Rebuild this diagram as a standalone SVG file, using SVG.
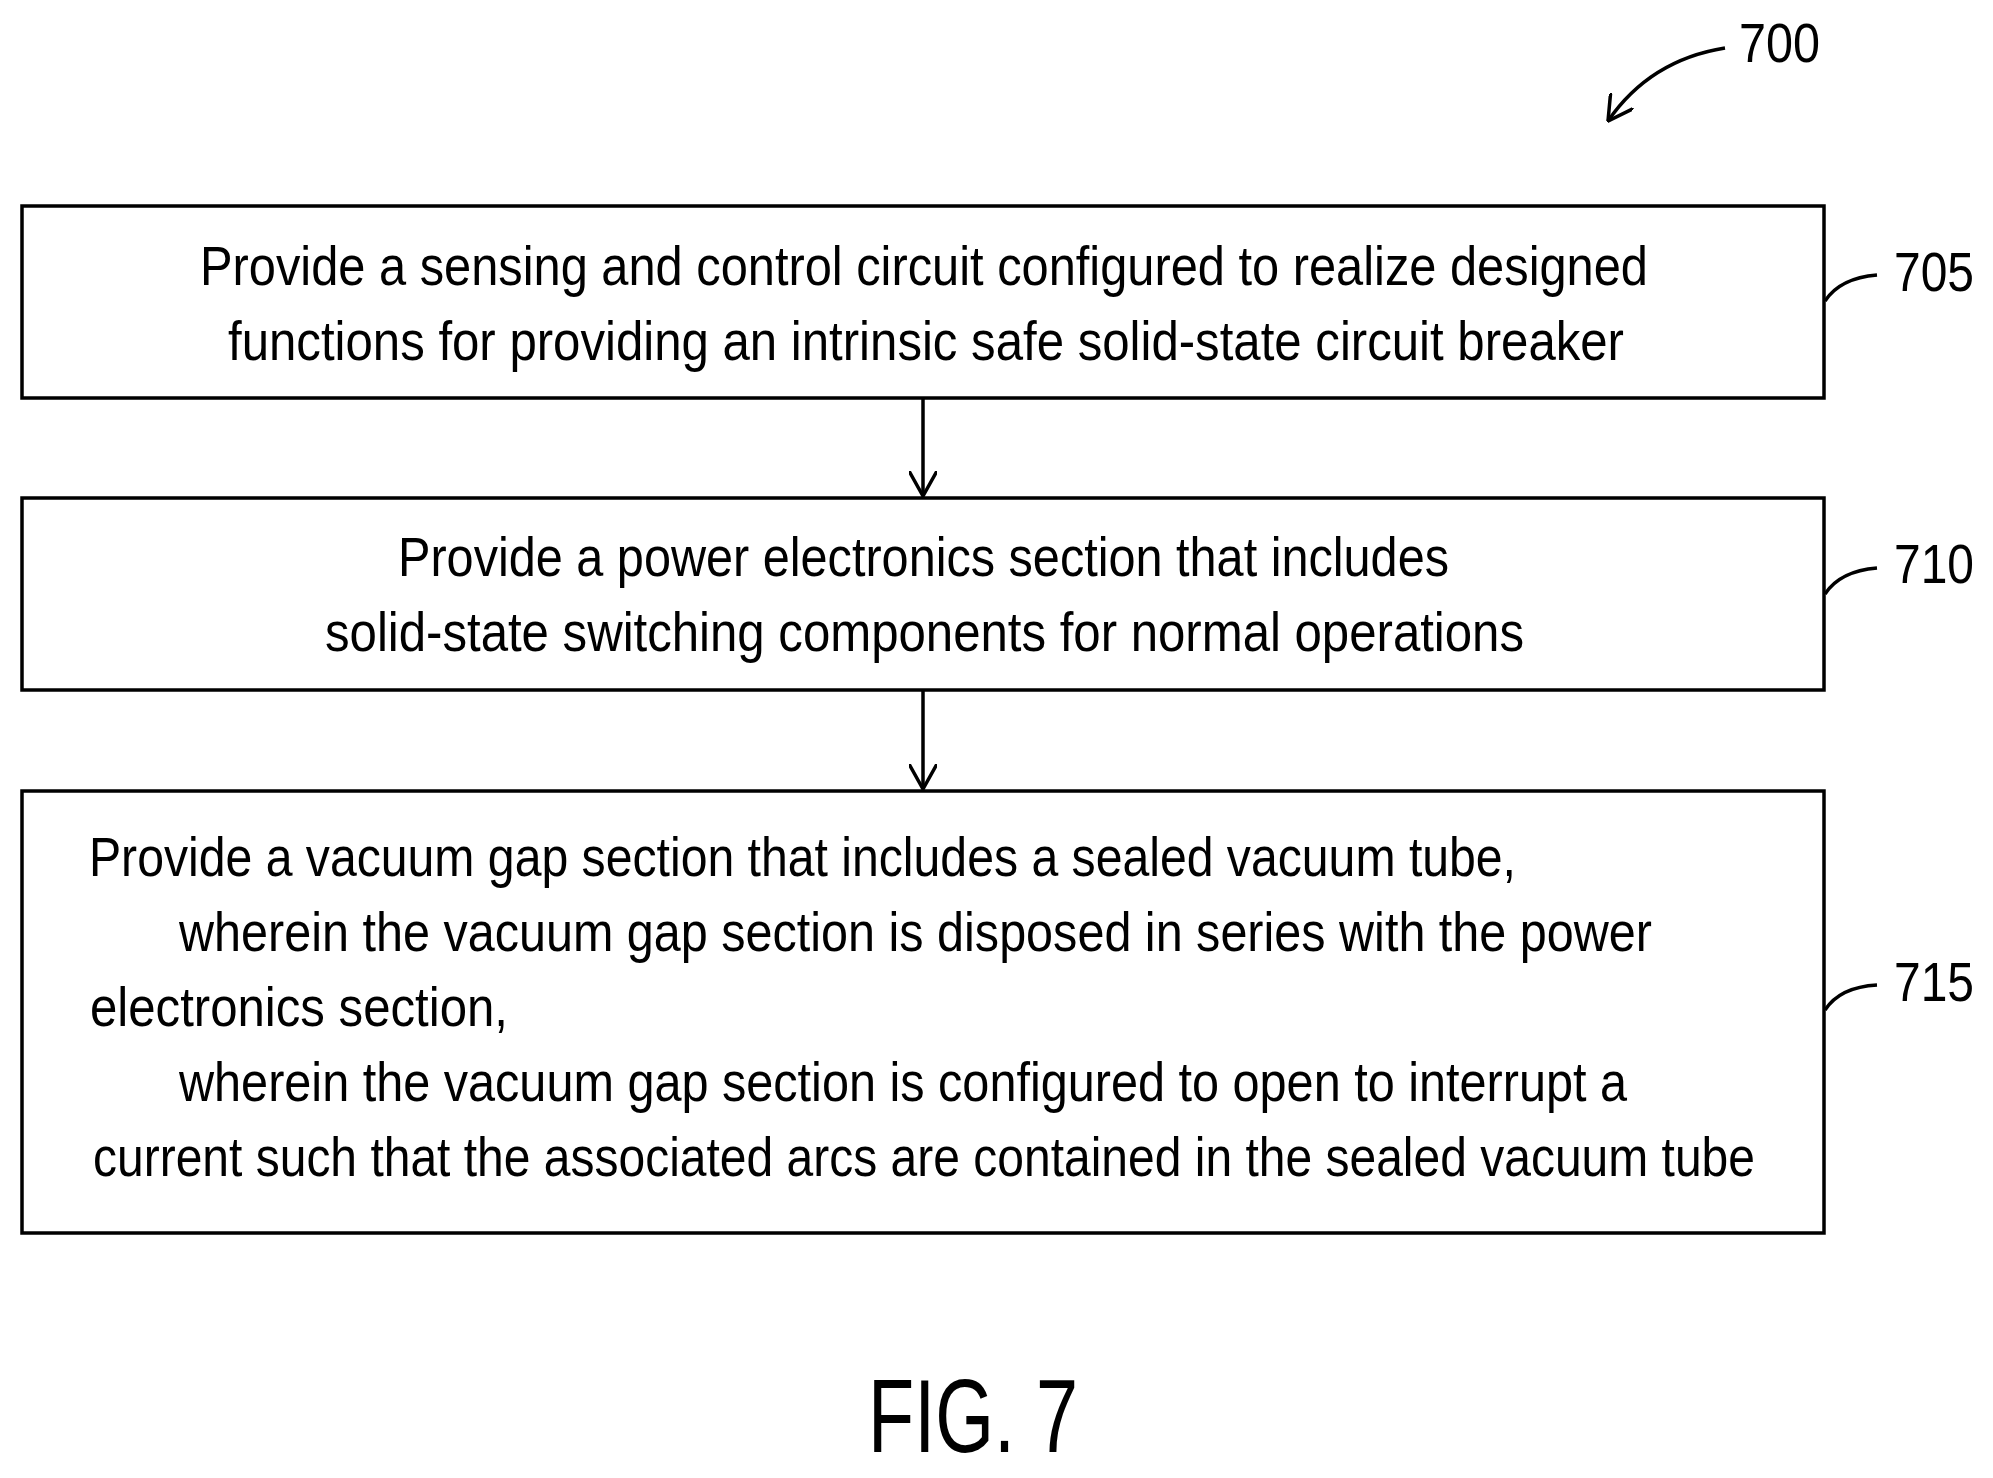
<svg xmlns="http://www.w3.org/2000/svg" width="1993" height="1478" viewBox="0 0 1993 1478">
<style>
.b{fill:#fff;stroke:#000;stroke-width:3.5}
.t{font-family:"Liberation Sans Narrow","Liberation Sans",sans-serif;font-size:56px;fill:#000}
.l{fill:none;stroke:#000;stroke-width:3.5}
</style>
<defs><marker id="a" viewBox="0 0 26 28" refX="25" refY="14" markerWidth="26" markerHeight="28" markerUnits="userSpaceOnUse" orient="auto"><path d="M0,0 L25,14 L0,28" fill="none" stroke="#000" stroke-width="3.5"/></marker></defs>
<rect width="1993" height="1478" fill="#fff"/>
<g id="n705"><rect class="b" x="22" y="206" width="1802" height="192"/>
<text class="t" x="200" y="285" textLength="1448" lengthAdjust="spacingAndGlyphs">Provide a sensing and control circuit configured to realize designed</text>
<text class="t" x="228" y="360" textLength="1396" lengthAdjust="spacingAndGlyphs">functions for providing an intrinsic safe solid-state circuit breaker</text>
<path class="l" d="M1825,301 Q1840,278 1877,275"/><text class="t" x="1894" y="291" textLength="80" lengthAdjust="spacingAndGlyphs">705</text></g>
<g id="n710"><rect class="b" x="22" y="498" width="1802" height="192"/>
<text class="t" x="398" y="576" textLength="1051" lengthAdjust="spacingAndGlyphs">Provide a power electronics section that includes</text>
<text class="t" x="325" y="651" textLength="1199" lengthAdjust="spacingAndGlyphs">solid-state switching components for normal operations</text>
<path class="l" d="M1825,594 Q1840,571 1877,568"/><text class="t" x="1894" y="583" textLength="80" lengthAdjust="spacingAndGlyphs">710</text></g>
<g id="n715"><rect class="b" x="22" y="791" width="1802" height="442"/>
<text class="t" x="89" y="876" textLength="1427" lengthAdjust="spacingAndGlyphs">Provide a vacuum gap section that includes a sealed vacuum tube,</text>
<text class="t" x="179" y="951" textLength="1473" lengthAdjust="spacingAndGlyphs">wherein the vacuum gap section is disposed in series with the power</text>
<text class="t" x="90" y="1026" textLength="418" lengthAdjust="spacingAndGlyphs">electronics section,</text>
<text class="t" x="179" y="1101" textLength="1448" lengthAdjust="spacingAndGlyphs">wherein the vacuum gap section is configured to open to interrupt a</text>
<text class="t" x="93" y="1176" textLength="1662" lengthAdjust="spacingAndGlyphs" style="font-size:50px" transform="translate(0,1176) scale(1,1.12) translate(0,-1176)">current such that the associated arcs are contained in the sealed vacuum tube</text>
<path class="l" d="M1825,1010 Q1840,987 1877,985"/><text class="t" x="1894" y="1001" textLength="80" lengthAdjust="spacingAndGlyphs">715</text></g>
<g id="connectors">
<line class="l" x1="923" y1="398" x2="923" y2="496" marker-end="url(#a)"/>
<line class="l" x1="923" y1="690" x2="923" y2="789" marker-end="url(#a)"/>
<path class="l" d="M1725,48 Q1650,60 1608,121" marker-end="url(#a)"/>
</g>
<text class="t" x="1739" y="62" textLength="81" lengthAdjust="spacingAndGlyphs">700</text>
<text class="t" x="868" y="1452" style="font-size:104px" textLength="210" lengthAdjust="spacingAndGlyphs">FIG. 7</text>
</svg>
